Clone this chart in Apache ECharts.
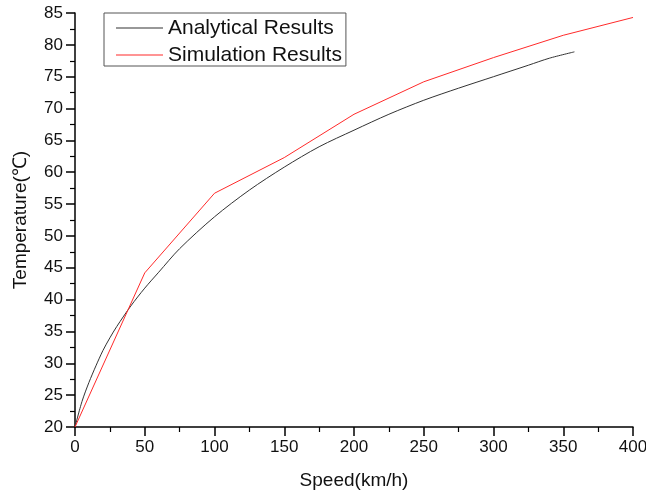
<!DOCTYPE html>
<html>
<head>
<meta charset="utf-8">
<script src="https://cdn.jsdelivr.net/npm/echarts@6/dist/echarts.min.js"></script>
<style>html,body{margin:0;padding:0;background:#fff;overflow:hidden}#c{width:646px;height:496px}</style>
</head>
<body>
<div id="c"></div>
<script>
const analyticalSpeed = [0, 5, 10, 15, 20, 25, 30, 40, 50, 60, 75, 100, 125, 150, 175, 200, 225, 250, 275, 300, 325, 340, 358];
const analyticalTemp  = [20, 24, 27, 29.6, 32, 34, 35.8, 39, 41.8, 44.3, 48, 53, 57.2, 60.8, 64, 66.6, 69.1, 71.3, 73.2, 75.0, 76.8, 77.9, 78.9];
const simulationSpeed = [0, 50, 100, 150, 200, 250, 300, 350, 400];
const simulationTemp  = [20, 44.2, 56.7, 62.3, 69.1, 74.2, 78.0, 81.5, 84.3];
const seriesNames = ['Analytical Results', 'Simulation Results'];
const xTitle = 'Speed(km/h)';
const yTitle = 'Temperature(\u2103)';

const font = 'Liberation Sans, Arial, sans-serif';
const chart = echarts.init(document.getElementById('c'), null, {renderer: 'canvas'});
const axisCommon = {
  axisLine: {show: true, onZero: false, lineStyle: {color: '#000', width: 1.5}},
  axisTick: {show: true, inside: false, length: 9, lineStyle: {color: '#000', width: 1.5}},
  minorTick: {show: true, splitNumber: 2, length: 5, lineStyle: {color: '#000', width: 1.2}},
  splitLine: {show: false},
  axisLabel: {color: '#111', fontSize: 17, fontFamily: font, margin: 12},
  nameTextStyle: {color: '#111', fontSize: 19, fontFamily: font}
};
chart.setOption({
  animation: false,
  backgroundColor: '#fff',
  grid: {left: 75, right: 13, top: 13, bottom: 69, containLabel: false, outerBoundsMode: 'none'},
  legend: {
    left: 104, top: 13, orient: 'vertical',
    data: seriesNames.map(n => ({name: n, icon: 'rect'})),
    itemWidth: 47, itemHeight: 1, itemGap: 5,
    padding: [4, 4, 0, 12],
    borderColor: '#555', borderWidth: 1,
    textStyle: {color: '#111', fontSize: 21, fontFamily: font, lineHeight: 22}
  },
  xAxis: Object.assign({}, axisCommon, {
    type: 'value', min: 0, max: 400, interval: 50,
    name: xTitle, nameLocation: 'middle', nameGap: 44
  }),
  yAxis: Object.assign({}, axisCommon, {
    type: 'value', min: 20, max: 85, interval: 5,
    name: yTitle, nameLocation: 'middle', nameGap: 45, nameRotate: 90
  }),
  series: [
    {
      name: seriesNames[0], type: 'line', symbol: 'none', smooth: 0.3,
      data: analyticalSpeed.map((s, i) => [s, analyticalTemp[i]]),
      lineStyle: {color: '#333', width: 1},
      itemStyle: {color: '#333'}
    },
    {
      name: seriesNames[1], type: 'line', symbol: 'none',
      data: simulationSpeed.map((s, i) => [s, simulationTemp[i]]),
      lineStyle: {color: '#ff2a2a', width: 1},
      itemStyle: {color: '#ff2a2a'}
    }
  ]
});
</script>
</body>
</html>
